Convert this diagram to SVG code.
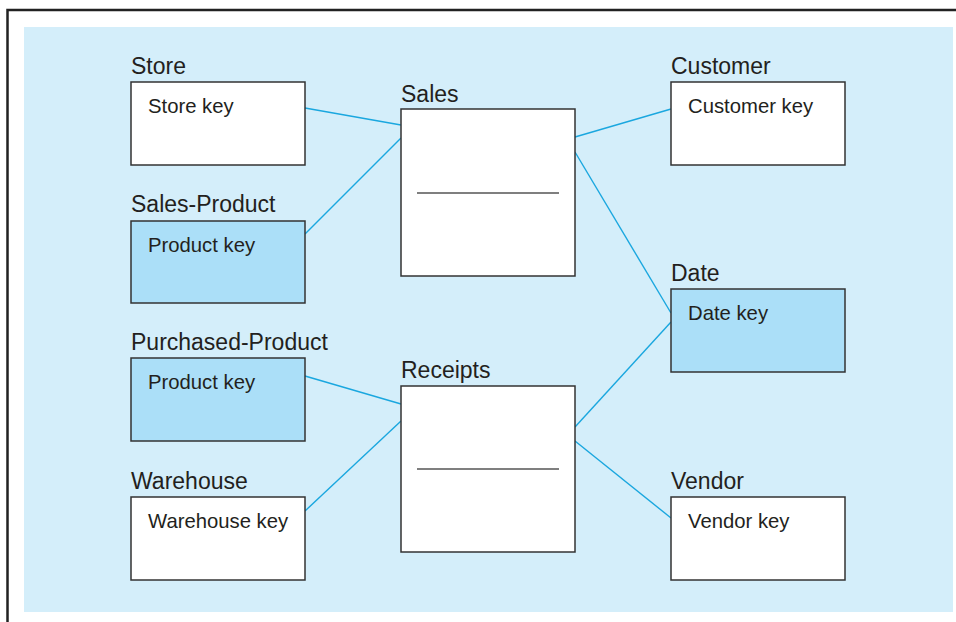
<svg xmlns="http://www.w3.org/2000/svg" width="956" height="622" viewBox="0 0 956 622">
<style>
.box{fill:#ffffff;stroke:#333333;stroke-width:1.5}
.hl{fill:#abdff8}
.title{font-family:"Liberation Sans",Arial,sans-serif;font-size:23px;fill:#231f20}
.key{font-family:"Liberation Sans",Arial,sans-serif;font-size:20.3px;fill:#231f20}
.conn line{stroke:#1aa7df;stroke-width:1.4}
.sep{stroke:#555555;stroke-width:1.5}
</style>
<rect x="0" y="0" width="956" height="622" fill="#ffffff"/>
<path d="M7.5,622 V10 H956" fill="none" stroke="#222222" stroke-width="2.5"/>
<rect x="24" y="27" width="929" height="585" fill="#d4eefa"/>
<g id="connectors" class="conn">
<line x1="305" y1="108" x2="401" y2="125"/>
<line x1="305" y1="234" x2="401" y2="138"/>
<line x1="575" y1="137" x2="671" y2="109"/>
<line x1="575" y1="152" x2="671" y2="313"/>
<line x1="305" y1="376" x2="401" y2="404"/>
<line x1="305" y1="511" x2="401" y2="421"/>
<line x1="575" y1="427" x2="671" y2="322"/>
<line x1="575" y1="441" x2="671" y2="518"/>
</g>
<g id="store">
<text class="title" x="131" y="74">Store</text>
<rect class="box" x="131" y="82" width="174" height="83"/>
<text class="key" x="148" y="113">Store key</text>
</g>
<g id="sales-product">
<text class="title" x="131" y="212">Sales-Product</text>
<rect class="box hl" x="131" y="221" width="174" height="82"/>
<text class="key" x="148" y="252">Product key</text>
</g>
<g id="purchased-product">
<text class="title" x="131" y="350">Purchased-Product</text>
<rect class="box hl" x="131" y="358" width="174" height="83"/>
<text class="key" x="148" y="389">Product key</text>
</g>
<g id="warehouse">
<text class="title" x="131" y="489">Warehouse</text>
<rect class="box" x="131" y="497" width="174" height="83"/>
<text class="key" x="148" y="528">Warehouse key</text>
</g>
<g id="sales">
<text class="title" x="401" y="102">Sales</text>
<rect class="box" x="401" y="109" width="174" height="167"/>
<line class="sep" x1="417" y1="193" x2="559" y2="193"/>
</g>
<g id="receipts">
<text class="title" x="401" y="378">Receipts</text>
<rect class="box" x="401" y="386" width="174" height="166"/>
<line class="sep" x1="417" y1="469" x2="559" y2="469"/>
</g>
<g id="customer">
<text class="title" x="671" y="74">Customer</text>
<rect class="box" x="671" y="82" width="174" height="83"/>
<text class="key" x="688" y="113">Customer key</text>
</g>
<g id="date">
<text class="title" x="671" y="281">Date</text>
<rect class="box hl" x="671" y="289" width="174" height="83"/>
<text class="key" x="688" y="320">Date key</text>
</g>
<g id="vendor">
<text class="title" x="671" y="489">Vendor</text>
<rect class="box" x="671" y="497" width="174" height="83"/>
<text class="key" x="688" y="528">Vendor key</text>
</g>
</svg>
